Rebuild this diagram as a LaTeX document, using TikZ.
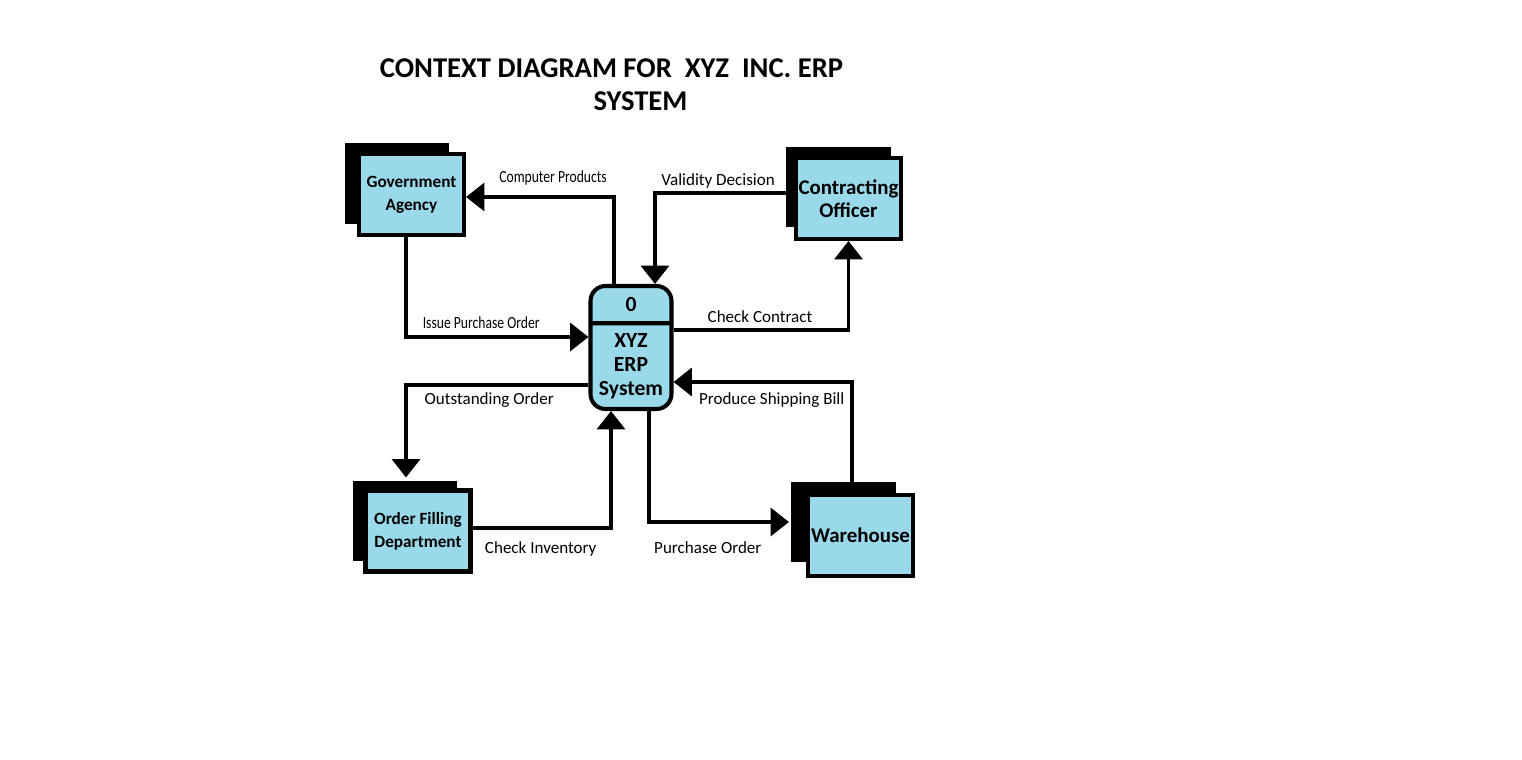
\documentclass[tikz,border=0pt]{standalone}
\usepackage{fontspec}
\setmainfont{Carlito}
\newfontfamily\narrowfont[FakeStretch=0.8]{Carlito}
\usepackage{tikz}
\usetikzlibrary{arrows.meta,positioning,calc,shapes.multipart,shadows}
\definecolor{entityblue}{HTML}{99D9EA}

\begin{document}
\begin{tikzpicture}[x=0.02cm,y=-0.02cm,line width=1.9pt]

\tikzstyle{entity}=[draw=black,line width=2.3pt,fill=entityblue,minimum width=2.1cm,minimum height=1.62cm,inner sep=1pt,align=center,font=\bfseries\fontsize{9.8}{13}\selectfont]
\tikzstyle{bigentity}=[entity,font=\bfseries\fontsize{11.9}{13}\selectfont]
\tikzset{shadowed/.style 2 args={drop shadow={shadow xshift=#1,shadow yshift=#2,fill=black,opacity=1}}}
\tikzstyle{process}=[draw=black,line width=2.3pt,fill=entityblue,rounded corners=0.3cm,rectangle split,rectangle split parts=2,minimum width=1.62cm,inner ysep=4.6pt,align=center,font=\bfseries\fontsize{12.3}{13.7}\selectfont]
\tikzstyle{flow}=[-{Triangle[length=10.5pt,width=16pt]},line width=1.9pt]
\tikzstyle{lbl}=[font=\fontsize{9.7}{11}\selectfont,inner sep=1pt]
\tikzstyle{lblnarrow}=[lbl,font=\narrowfont\fontsize{9.7}{11}\selectfont]

\useasboundingbox (0,0) rectangle (1522,760);

\node [font=\bfseries\fontsize{16.3}{18}\selectfont] (title1) at (611.5,68) {CONTEXT DIAGRAM FOR\ \ XYZ\ \ INC. ERP};
\node [font=\bfseries\fontsize{16.3}{18}\selectfont] (title2) at (640.5,101) {SYSTEM};

\node [entity,shadowed={-0.29cm}{0.22cm}] (GA) at (411.5,194.5) {Government\\Agency};
\node [bigentity,shadowed={-0.21cm}{0.23cm}] (CO) at (848.5,198.5) {Contracting\\Officer};
\node [entity,shadowed={-0.26cm}{0.2cm}] (OFD) at (418,531) {Order Filling\\Department};
\node [bigentity,shadowed={-0.34cm}{0.27cm}] (WH) at (860.5,535.5) {Warehouse};
\node [process] (P0) at (631,347.5) {\rule[-1pt]{0pt}{9.7pt}0\nodepart{second}XYZ\\ERP\\System};

\draw [flow] (P0.north) ++(-17,0) |- node [lblnarrow,pos=.706,above=4.5pt] {Computer Products} ($(GA.east)+(0,2.5)$);
\draw [flow] (GA.south) ++(-5.5,0) |- node [lblnarrow,pos=.706,above=2.8pt] {Issue Purchase Order} ($(P0.west)+(0,-10.5)$);
\draw [flow] (CO.west) ++(0,-5.5) -| node [lbl,pos=.273,above=.6pt] {Validity Decision} ($(P0.north)+(24,0)$);
\draw [flow] ($(P0.east)+(0,-17.5)$) -| node [lbl,pos=.247,above=2.3pt] {Check Contract} (CO.south);
\draw [flow] (WH.north) ++(-8.5,0) |- node [lbl,pos=.725,below=4pt] {Produce Shipping Bill} ($(P0.east)+(0,34.5)$);
\draw [flow] (P0.south) ++(18,0) |- node [lbl,pos=.71,below=9pt] {Purchase Order} ($(WH.west)+(-17,-13.5)$);
\draw [flow] ($(P0.west)+(0,37.5)$) -| node [lbl,pos=.272,below=2.3pt] {Outstanding Order} ($(OFD.north)+(-12,-11)$);
\draw [flow] ($(OFD.east)+(0,-3)$) -| node [lbl,pos=.246,below=5.7pt] {Check Inventory} ($(P0.south)+(-20,0)$);

\end{tikzpicture}
\end{document}
